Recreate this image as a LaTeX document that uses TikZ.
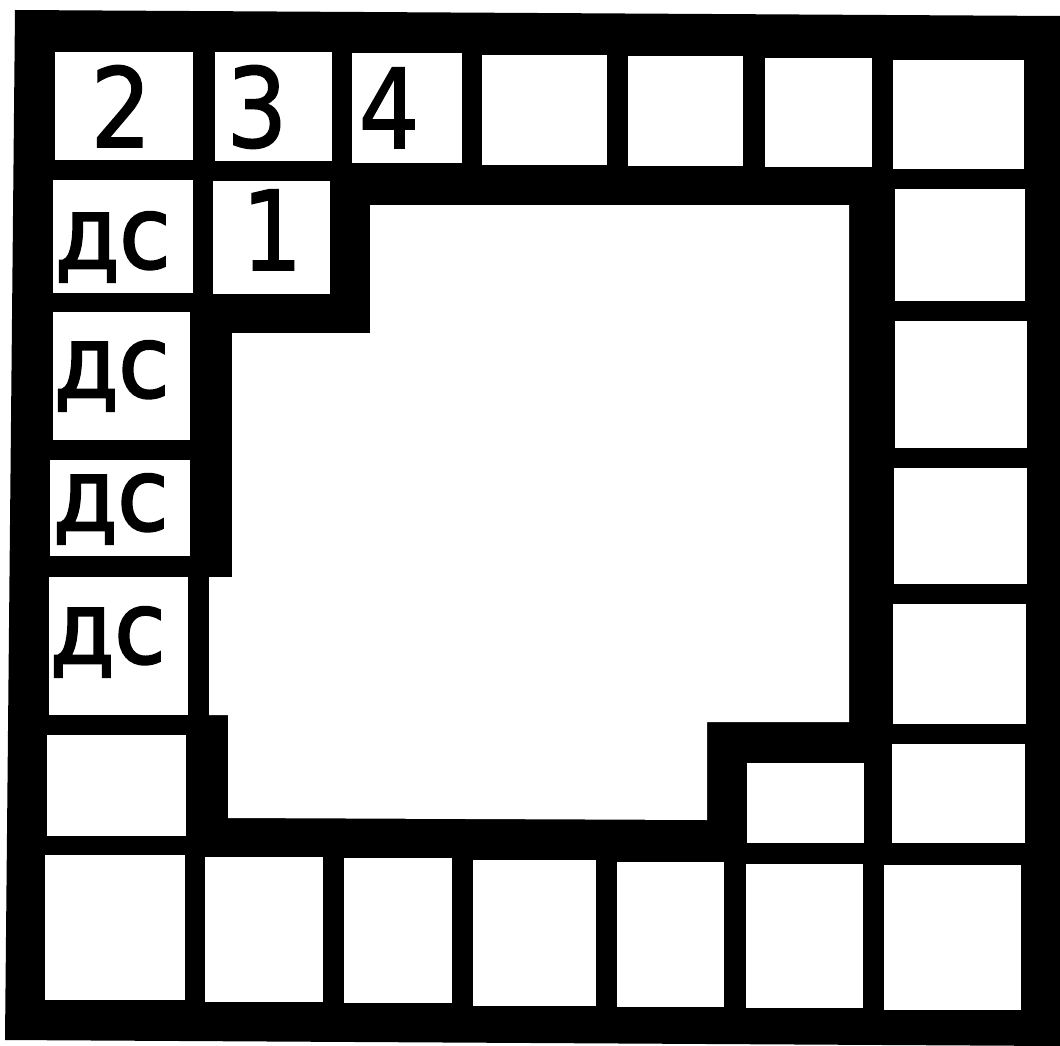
\documentclass[tikz,border=0pt]{standalone}
\usepackage{fontspec}
\setmainfont{DejaVu Sans}
\newfontfamily\digitfont[FakeBold=1.5]{DejaVu Sans}
\newfontfamily\dsfont[FakeBold=2.5]{DejaVu Sans}
\begin{document}
\begin{tikzpicture}[x=1pt,y=-1pt,
  cell/.style={fill=white,draw=none},
  digit/.style={anchor=base,inner sep=0pt,font=\digitfont\fontsize{110}{110}\selectfont,xscale=0.87},
  ds/.style={anchor=base west,inner sep=0pt,font=\dsfont\fontsize{100}{100}\selectfont,xscale=0.93}]
\useasboundingbox (0,0) rectangle (1060,1046);
\fill[white] (0,0) rectangle (1060,1046);
% black frame
\fill[black] (15,10) -- (1060,16) -- (1060,1046) -- (5,1040) -- cycle;
% inner white area
\fill[white] (370,205) -- (849,205) -- (849,722) -- (707,722) -- (707,820)
  -- (228,818) -- (228,715) -- (209,715) -- (209,577) -- (232,577)
  -- (232,333) -- (370,333) -- cycle;
% top row
\path[cell] (55,52) rectangle (193,160);
\path[cell] (215,52) rectangle (332,161);
\path[cell] (352,53) rectangle (462,163);
\path[cell] (482,55) rectangle (607,165);
\path[cell] (628,56) rectangle (743,166);
\path[cell] (765,58) rectangle (872,167);
\path[cell] (893,60) rectangle (1024,169);
% second row
\path[cell] (53,180) rectangle (193,293);
\path[cell] (213,181) rectangle (330,294);
% right column
\path[cell] (895,189) rectangle (1025,301);
\path[cell] (895,321) rectangle (1027,448);
\path[cell] (894,468) rectangle (1027,584);
\path[cell] (893,604) rectangle (1026,724);
\path[cell] (892,744) rectangle (1025,843);
% left column
\path[cell] (53,312) rectangle (190,440);
\path[cell] (50,460) rectangle (190,556);
\path[cell] (49,577) rectangle (188,715);
\path[cell] (47,735) rectangle (186,836);
% small cell
\path[cell] (747,763) rectangle (864,843);
% bottom row
\path[cell] (45,855) rectangle (185,1000);
\path[cell] (205,857) rectangle (323,1002);
\path[cell] (344,858) rectangle (452,1003);
\path[cell] (473,860) rectangle (596,1006);
\path[cell] (617,862) rectangle (724,1007);
\path[cell] (746,864) rectangle (863,1008);
\path[cell] (884,865) rectangle (1021,1010);
% labels
\node[digit] (n2) at (121,147) {2};
\node[digit] (n3) at (257,147) {3};
\node[digit] (n4) at (389,148) {4};
\node[digit] (n1) at (272,270) {1};
\node[ds] (d1) at (55,268) {дс};
\node[ds] (d2) at (54,397) {дс};
\node[ds] (d3) at (53,530) {дс};
\node[ds] (d4) at (50,663) {дс};
\end{tikzpicture}
\end{document}
